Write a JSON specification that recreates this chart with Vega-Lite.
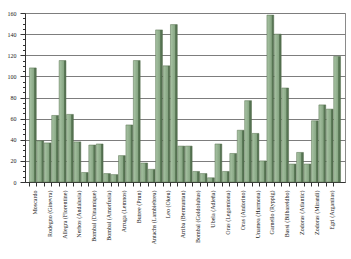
{
  "$schema": "https://vega.github.io/schema/vega-lite/v6.json",
  "autosize": {"type": "none"},
  "width": 320,
  "height": 169,
  "padding": {"left": 25, "top": 13, "right": 6, "bottom": 77},
  "background": "white",
  "config": {"view": {"stroke": "#8a8a8a", "strokeWidth": 1}},
  "data": {"values": [
    {"k": "Moscardo", "v": 108}, {"k": "Moscardo|", "v": 39},
    {"k": "Rodegno (Ginevra)", "v": 37}, {"k": "Rodegno (Ginevra)|", "v": 63},
    {"k": "Allegra (Florentine)", "v": 115}, {"k": "Allegra (Florentine)|", "v": 64},
    {"k": "Nerbos (Andalusia)", "v": 38}, {"k": "Nerbos (Andalusia)|", "v": 9},
    {"k": "Bombal (Dinamique)", "v": 35}, {"k": "Bombal (Dinamique)|", "v": 36},
    {"k": "Bombal (Amorfusia)", "v": 8}, {"k": "Bombal (Amorfusia)|", "v": 7},
    {"k": "Arruga (Lemnos)", "v": 25}, {"k": "Arruga (Lemnos)|", "v": 54},
    {"k": "Butree (Prun)", "v": 115}, {"k": "Butree (Prun)|", "v": 18},
    {"k": "Antachs (Lambiebrea)", "v": 12}, {"k": "Antachs (Lambiebrea)|", "v": 144},
    {"k": "Leo (Okeu)", "v": 110}, {"k": "Leo (Okeu)|", "v": 149},
    {"k": "Arriba (Bermuntan)", "v": 34}, {"k": "Arriba (Bermuntan)|", "v": 34},
    {"k": "Bombal (Goldolubus)", "v": 10}, {"k": "Bombal (Goldolubus)|", "v": 8},
    {"k": "Ubela (Adleña)", "v": 4}, {"k": "Ubela (Adleña)|", "v": 36},
    {"k": "Oras (Legomiona)", "v": 10}, {"k": "Oras (Legomiona)|", "v": 27},
    {"k": "Oras (Andorino)", "v": 49}, {"k": "Oras (Andorino)|", "v": 77},
    {"k": "Unamea (Harmona)", "v": 46}, {"k": "Unamea (Harmona)|", "v": 20},
    {"k": "Garnello (Ryppig)", "v": 158}, {"k": "Garnello (Ryppig)|", "v": 140},
    {"k": "Bassi (Bilbareldbo)", "v": 89}, {"k": "Bassi (Bilbareldbo)|", "v": 17},
    {"k": "Zodoras (Atlantic)", "v": 28}, {"k": "Zodoras (Atlantic)|", "v": 17},
    {"k": "Zodoras (Mirandi)", "v": 58}, {"k": "Zodoras (Mirandi)|", "v": 73},
    {"k": "Egri (Arganitas)", "v": 69}, {"k": "Egri (Arganitas)|", "v": 119}
  ]},
  "mark": {
    "type": "bar",
    "stroke": "#56714f",
    "strokeWidth": 0.5,
    "color": {
      "gradient": "linear", "x1": 0, "x2": 1, "y1": 0, "y2": 0,
      "stops": [
        {"offset": 0, "color": "#a9c4a5"},
        {"offset": 0.66, "color": "#87a683"},
        {"offset": 0.7, "color": "#5f7e5b"},
        {"offset": 1, "color": "#4d684a"}
      ]
    }
  },
  "encoding": {
    "x": {
      "field": "k", "type": "nominal", "sort": null, "title": null,
      "scale": {"paddingInner": 0.08, "paddingOuter": 0.6},
      "axis": {
        "labelAngle": -90,
        "labelExpr": "indexof(datum.value, '|') >= 0 ? '' : datum.value",
        "labelFont": "Liberation Serif",
        "labelFontSize": 6,
        "labelColor": "#222",
        "labelPadding": 4,
        "labelOffset": 2,
        "bandPosition": 0,
        "tickSize": 4,
        "tickColor": "#333",
        "domainColor": "#333",
        "labelOverlap": false
      }
    },
    "y": {
      "field": "v", "type": "quantitative", "title": null,
      "scale": {"domain": [0, 160], "nice": false},
      "axis": {
        "values": [0,5,10,15,20,25,30,35,40,45,50,55,60,65,70,75,80,85,90,95,100,105,110,115,120,125,130,135,140,145,150,155,160],
        "labelExpr": "datum.value % 20 === 0 ? '' + datum.value : ''",
        "labelFont": "Liberation Serif",
        "labelFontSize": 6,
        "labelColor": "#222",
        "labelPadding": 4,
        "tickSize": {"condition": {"test": "datum.value % 20 === 0", "value": 5}, "value": 2.5},
        "tickColor": "#333",
        "domainColor": "#333",
        "grid": true,
        "gridColor": "#7d7d7d",
        "gridWidth": 1,
        "gridOpacity": {"condition": {"test": "datum.value % 20 === 0", "value": 1}, "value": 0}
      }
    }
  }
}
